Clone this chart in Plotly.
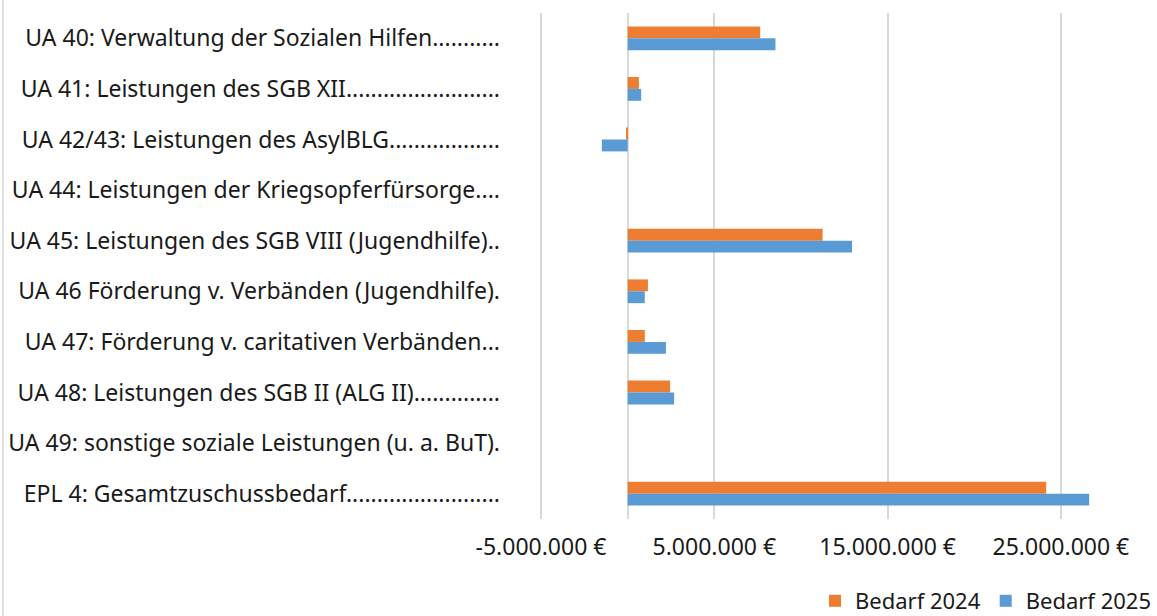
import plotly.graph_objects as go

categories = [
    "UA 40: Verwaltung der Sozialen Hilfen...........",
    "UA 41: Leistungen des SGB XII.........................",
    "UA 42/43: Leistungen des AsylBLG..................",
    "UA 44: Leistungen der Kriegsopferfürsorge....",
    "UA 45: Leistungen des SGB VIII (Jugendhilfe)..",
    "UA 46 Förderung v. Verbänden (Jugendhilfe).",
    "UA 47: Förderung v. caritativen Verbänden...",
    "UA 48: Leistungen des SGB II (ALG II)..............",
    "UA 49: sonstige soziale Leistungen (u. a. BuT).",
    "EPL 4: Gesamtzuschussbedarf.........................",
]
bedarf_2024 = [7_650_000, 650_000, -50_000, 0, 11_250_000, 1_170_000, 990_000, 2_450_000, 0, 24_150_000]
bedarf_2025 = [8_530_000, 780_000, -1_490_000, 0, 12_950_000, 990_000, 2_210_000, 2_680_000, 0, 26_630_000]

tick_values = [-5_000_000, 0, 5_000_000, 15_000_000, 25_000_000]
tick_labels = ["-5.000.000 €", "", "5.000.000 €", "15.000.000 €", "25.000.000 €"]

FONT = "Noto Sans"
FS = 23
W, H = 1157, 616
L, R, T, B = 530, 0, 13, 97
PX_PER_M = 17.33
LABEL_RIGHT = 501

fig = go.Figure()
fig.add_trace(go.Bar(y=categories, x=bedarf_2024, orientation="h", name="Bedarf 2024",
                     marker=dict(color="#ED7D31", line=dict(width=0))))
fig.add_trace(go.Bar(y=categories, x=bedarf_2025, orientation="h", name="Bedarf 2025",
                     marker=dict(color="#5B9BD5", line=dict(width=0))))

plot_h = H - T - B
plot_w = W - L - R
x0 = -5_000_000 - (541 - L) / PX_PER_M * 1_000_000

fig.update_layout(
    width=W, height=H,
    margin=dict(l=L, r=R, t=T, b=B, autoexpand=False),
    paper_bgcolor="white", plot_bgcolor="white",
    barmode="group", bargap=0.53, bargroupgap=0,
    font=dict(family=FONT, size=FS, color="#1a1a1a"),
    showlegend=True,
    legend=dict(orientation="h", xref="container", yref="container",
                x=1.0, xanchor="right", y=(H - 601) / H, yanchor="middle",
                font=dict(size=FS - 1, color="#1a1a1a"),
                bgcolor="rgba(0,0,0,0)", traceorder="normal", itemwidth=30),
    xaxis=dict(range=[x0, x0 + plot_w / PX_PER_M * 1_000_000],
               tickvals=tick_values, ticktext=tick_labels,
               showgrid=True, gridcolor="#d9d9d9", gridwidth=1.5,
               zeroline=True, zerolinecolor="#d9d9d9", zerolinewidth=1.5,
               showline=False, ticks="", ticklabelstandoff=12, automargin=False,
               tickfont=dict(size=FS, color="#1a1a1a"), fixedrange=True),
    yaxis=dict(autorange="reversed", showgrid=False, zeroline=False, showline=False,
               ticks="", ticklabelstandoff=L - LABEL_RIGHT, automargin=False,
               tickfont=dict(size=FS, color="#1a1a1a"), fixedrange=True),
    shapes=[dict(type="line", xref="paper", yref="paper",
                 x0=(3 - L) / plot_w, x1=(3 - L) / plot_w,
                 y0=-(H - T - plot_h) / plot_h, y1=1 + T / plot_h,
                 line=dict(color="#d9d9d9", width=1.5))],
)

fig.write_html("out.html", config={"displayModeBar": False},
               post_script="document.body.style.margin='0';")
